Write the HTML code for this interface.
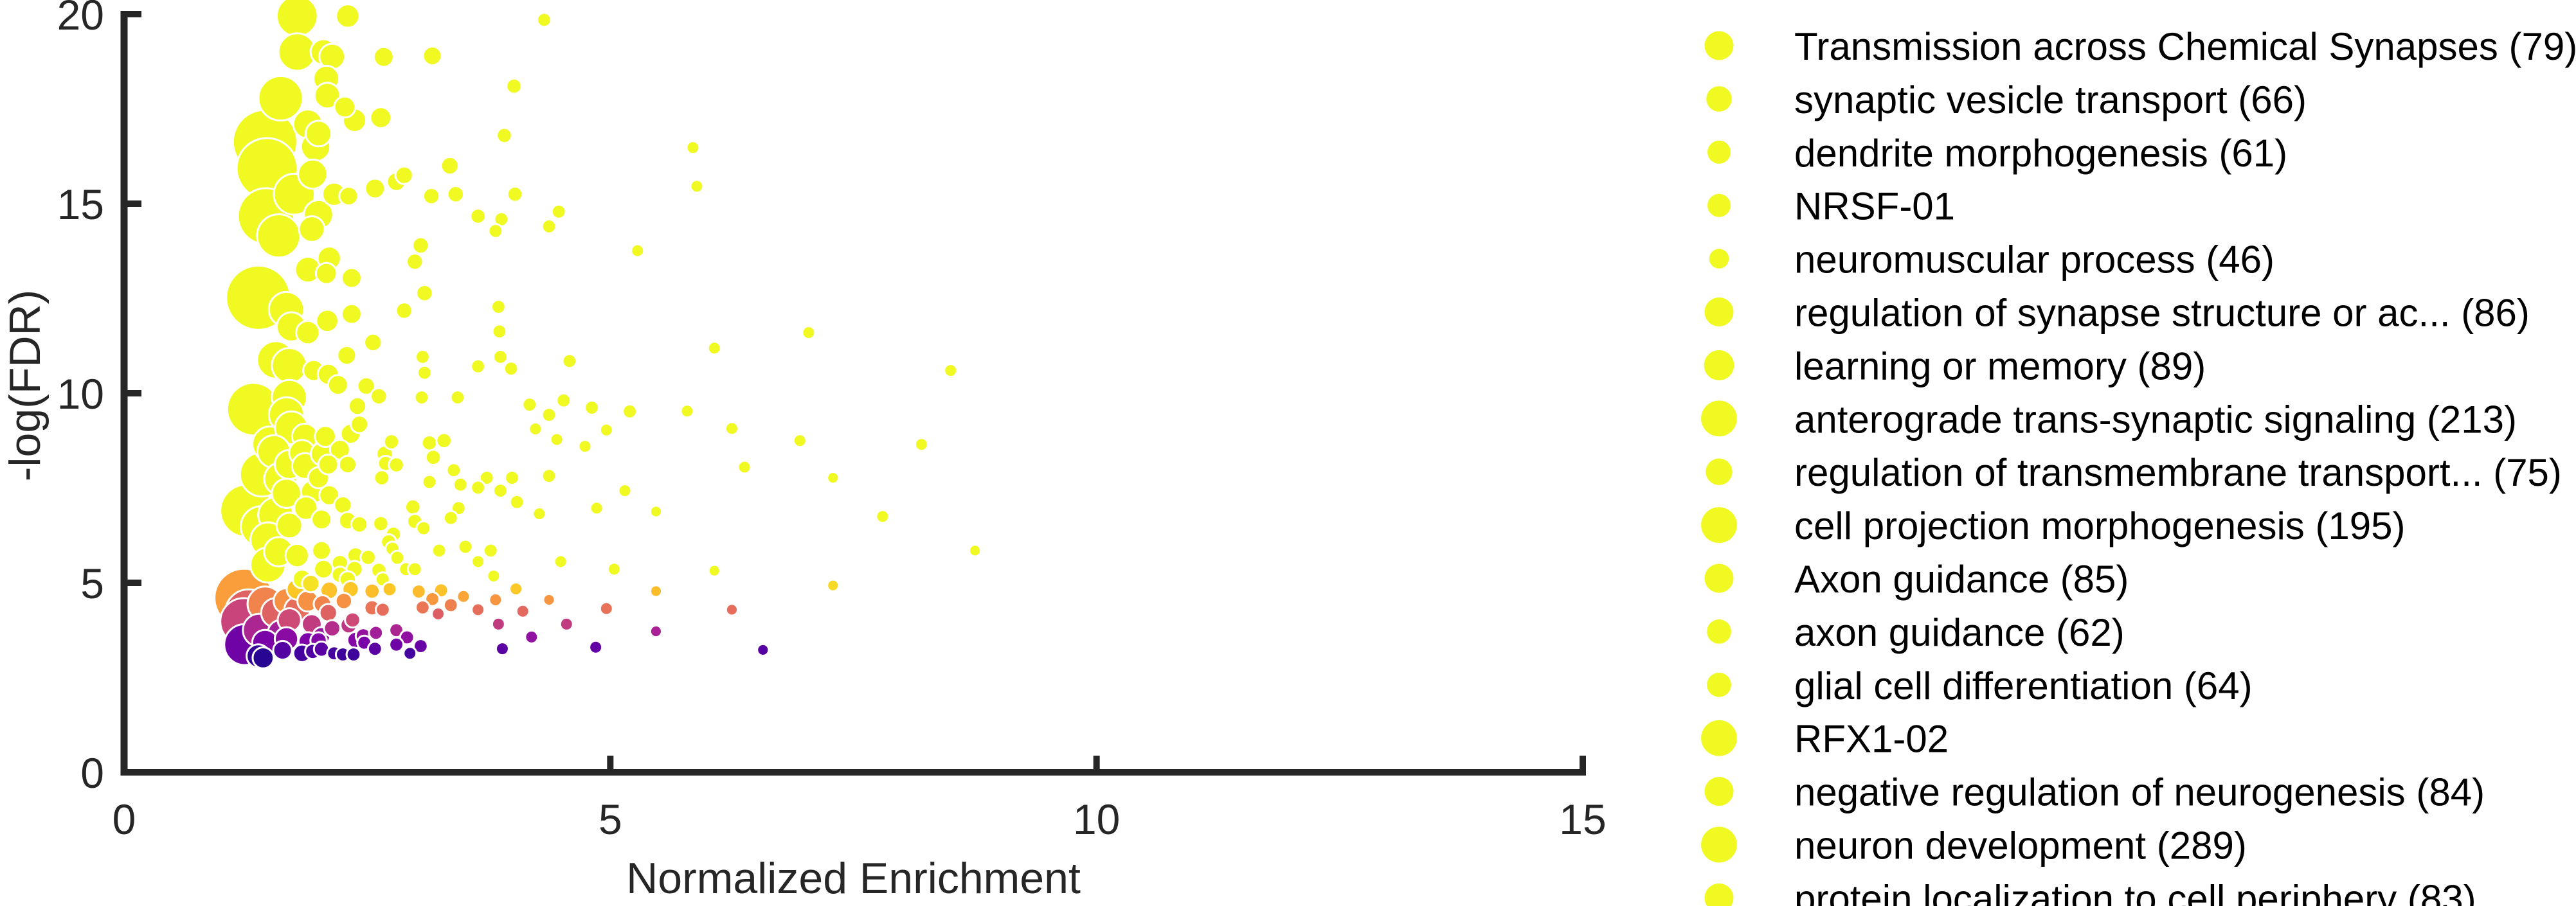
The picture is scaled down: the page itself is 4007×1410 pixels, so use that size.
<!DOCTYPE html>
<html><head><meta charset="utf-8"><style>
html,body{margin:0;padding:0;background:#fff;}
svg{display:block;}
text{font-family:"Liberation Sans",Arial,sans-serif;}
</style></head><body>
<svg id="chart" width="4007" height="1410" viewBox="0 0 4007 1410" xmlns="http://www.w3.org/2000/svg">
<g id="marks"></g>
<g id="axes"></g>
<g id="legend"></g>
</svg>
<script>
const xs=[1.78,2.30,4.32,1.78,2.05,2.14,2.67,3.17,4.01,1.61,2.08,2.09,2.27,2.37,2.64,1.89,2.0,3.91,1.97,5.85,1.45,1.47,1.94,2.88,3.35,5.89,1.75,2.16,2.31,2.58,2.80,3.16,3.41,4.02,2.0,1.46,3.64,3.88,4.47,3.82,4.37,1.59,1.93,5.28,3.05,2.99,2.11,1.89,2.08,2.34,3.09,1.38,1.67,3.85,2.88,2.34,2.09,1.72,1.89,3.86,7.04,6.07,2.56,2.29,1.56,1.70,3.07,3.87,4.58,1.95,2.1,3.09,3.64,3.98,2.2,2.49,2.62,3.06,3.43,1.70,1.33,1.67,2.40,4.17,4.52,4.81,5.20,5.79,4.37,1.72,1.86,2.07,2.33,2.42,4.23,4.96,6.25,1.50,1.54,2.75,3.14,3.29,4.45,4.74,6.95,1.83,2.04,2.22,2.68,3.18,1.70,1.86,2.10,2.30,2.69,2.80,6.38,1.42,1.61,2.0,2.65,3.14,3.39,3.46,3.73,3.99,4.37,7.29,1.67,1.94,2.11,3.64,3.87,5.15,2.25,1.87,2.97,3.44,4.04,4.86,1.26,1.56,2.03,1.70,2.30,2.42,2.64,2.99,3.08,3.36,4.27,5.47,1.41,1.48,2.77,2.72,2.03,1.59,1.78,2.76,2.81,3.24,3.51,3.77,2.38,2.51,1.48,2.22,3.64,4.49,2.05,2.37,2.62,2.90,2.99,5.04,6.07,7.29,1.83,2.22,2.30,1.92,2.66,3.80,1.23,1.78,2.11,2.33,2.55,2.73,3.03,3.26,4.03,5.47,1.45,1.67,1.89,2.04,2.26,3.49,3.82,4.37,3.17,1.28,1.56,1.78,2.10,2.55,2.66,3.07,3.36,3.64,3.23,4.10,4.96,6.25,1.23,1.70,1.93,2.31,2.35,2.14,3.85,4.55,1.39,1.61,2.80,5.47,2.03,2.46,2.59,2.91,4.19,1.24,1.45,1.67,1.89,2.0,2.38,2.47,2.80,3.05,1.63,1.83,1.94,2.03,2.16,2.25,2.36,2.58,2.94,3.89,4.85,6.57,1.38,1.43,8.5,8.2,7.8,8.75];
const ys=[19.95,19.95,19.85,19.0,19.0,18.88,18.87,18.9,18.1,17.78,18.3,17.85,17.55,17.2,17.27,17.1,16.85,16.8,16.5,16.48,16.63,15.93,15.78,15.75,16.0,15.46,15.25,15.25,15.2,15.4,15.58,15.2,15.25,15.25,14.71,14.67,14.67,14.59,14.79,14.28,14.4,14.15,14.33,13.76,13.9,13.47,13.56,13.26,13.16,13.04,12.64,12.52,12.21,12.28,12.18,12.09,11.91,11.75,11.6,11.63,11.6,11.19,11.34,11.0,10.88,10.73,10.96,10.96,10.85,10.6,10.5,10.54,10.71,10.65,10.22,10.19,9.92,9.89,9.89,9.89,9.58,9.43,9.66,9.7,9.81,9.62,9.52,9.53,9.43,9.09,8.86,8.86,8.93,9.18,9.06,9.03,9.07,8.66,8.46,8.72,8.69,8.75,8.78,8.6,8.75,8.43,8.4,8.51,8.4,8.31,8.12,8.08,8.12,8.12,8.15,8.11,8.05,7.86,7.74,7.77,7.77,7.66,7.97,7.59,7.77,7.77,7.82,7.77,7.36,7.40,7.31,7.51,7.43,7.43,7.05,6.97,7.0,6.97,7.13,6.97,6.9,6.79,6.67,6.51,6.64,6.54,6.56,6.62,6.44,6.71,6.82,6.88,6.48,6.13,6.28,6.08,5.85,5.82,5.72,5.90,5.66,5.85,5.95,5.85,5.72,5.67,5.47,5.52,5.56,5.56,5.36,5.36,5.33,5.36,5.36,5.36,5.32,4.93,5.10,5.21,5.09,4.98,5.09,5.18,4.6,4.83,4.80,4.83,4.78,4.83,4.77,4.80,4.84,4.78,4.44,4.52,4.52,4.44,4.52,4.64,4.55,4.55,4.57,4.21,4.21,4.29,4.21,4.34,4.29,4.35,4.41,4.29,4.18,4.25,4.32,4.29,3.98,4.02,3.91,3.88,4.02,3.80,3.91,3.91,3.75,3.68,3.75,3.72,3.60,3.60,3.68,3.56,3.57,3.37,3.42,3.52,3.45,3.48,3.49,3.42,3.37,3.33,3.22,3.14,3.19,3.25,3.14,3.11,3.11,3.26,3.14,3.26,3.30,3.23,3.07,3.02,10.6,8.65,6.75,5.85];
const markerSizes=[35,20,12,32,22,22,17,16,13,38,22,22,18,20,18,25,22,13,25,11,55,52,25,15,15,11,35,20,16,17,16,14,14,13,25,48,13,12,12,12,12,37,22,11,14,14,20,22,18,17,14,55,30,12,14,17,19,25,20,12,11,11,15,16,32,30,12,12,12,18,18,12,12,12,17,15,14,12,12,30,45,30,15,12,12,12,12,11,12,28,22,18,17,15,11,11,11,30,28,13,13,13,11,11,11,22,20,17,14,13,25,22,17,15,13,13,11,38,28,18,13,12,12,12,12,12,12,10,25,20,17,12,12,11,15,20,13,12,12,11,45,30,17,22,15,14,13,13,12,12,11,10,35,30,13,13,16,25,20,12,12,12,12,12,14,13,30,14,11,11,16,14,13,12,12,11,10,10,16,14,14,15,12,11,50,18,15,14,13,12,12,12,11,10,30,22,18,15,14,11,11,10,12,40,25,22,15,13,12,12,12,11,11,11,11,10,40,20,17,14,13,14,11,11,28,22,12,10,15,13,12,12,11,35,22,20,16,14,14,12,12,12,16,15,13,13,12,12,12,12,11,11,11,10,20,18,11,11,11,10];
const xTicks=[0,5,10,15];
const yTicks=[0,5,10,15,20];
const legendLabels=["Transmission across Chemical Synapses (79)","synaptic vesicle transport (66)","dendrite morphogenesis (61)","NRSF-01","neuromuscular process (46)","regulation of synapse structure or ac... (86)","learning or memory (89)","anterograde trans-synaptic signaling (213)","regulation of transmembrane transport... (75)","cell projection morphogenesis (195)","Axon guidance (85)","axon guidance (62)","glial cell differentiation (64)","RFX1-02","negative regulation of neurogenesis (84)","neuron development (289)","protein localization to cell periphery (83)"];
const legendSizes=[25,22,20,20,17,25,26,31,23,31,25,21,21,31,25,31,25];

const NS="http://www.w3.org/2000/svg";
const X0=193,X1=2462,Y0=1202,Y1=22;
const sx=v=>X0+(v-0)/(15-0)*(X1-X0);
const sy=v=>Y0-(v-0)/(20-0)*(Y0-Y1);
const stops=["#0d0887","#4c02a1","#7e03a8","#a92395","#cc4778","#e56b5d","#f89540","#fdc527","#f0f921"];
function hex(h){return [1,3,5].map(i=>parseInt(h.substr(i,2),16));}
function plasma(t){t=Math.max(0,Math.min(1,t));const p=t*(stops.length-1);const i=Math.min(stops.length-2,Math.floor(p));const f=p-i;const a=hex(stops[i]),b=hex(stops[i+1]);return "rgb("+a.map((v,k)=>Math.round(v+(b[k]-v)*f)).join(",")+")";}
function colorFor(y){return plasma((y-2.9)/2.2);}
function el(tag,attrs,parent){const e=document.createElementNS(NS,tag);for(const k in attrs)e.setAttribute(k,attrs[k]);parent.appendChild(e);return e;}

const marks=document.getElementById("marks");
const idx=xs.map((_,i)=>i).sort((a,b)=>markerSizes[b]-markerSizes[a]);
idx.forEach(i=>{
  const c=el("circle",{cx:sx(xs[i]),cy:sy(ys[i]),r:markerSizes[i]/1.1,fill:colorFor(ys[i]),stroke:"#fff","stroke-width":3},marks);
  
  
});

const axes=document.getElementById("axes");
const yAxis=el("line",{x1:X0,y1:Y1-5,x2:X0,y2:Y0+5,stroke:"#262626","stroke-width":11},axes);


const xAxis=el("line",{x1:X0-5,y1:Y0,x2:X1+5,y2:Y0,stroke:"#262626","stroke-width":10},axes);


xTicks.forEach(v=>{
  const t=el("line",{x1:sx(v),y1:Y0,x2:sx(v),y2:Y0-26,stroke:"#262626","stroke-width":10},axes);
  
  
  const l=el("text",{x:sx(v),y:Y0+96,"text-anchor":"middle","font-size":66,fill:"#262626"},axes);
  l.textContent=v;
  
  
});
yTicks.forEach(v=>{
  const t=el("line",{x1:X0,y1:sy(v),x2:X0+27,y2:sy(v),stroke:"#262626","stroke-width":10},axes);
  
  
  const l=el("text",{x:X0-31,y:sy(v)+24,"text-anchor":"end","font-size":66,fill:"#262626"},axes);
  l.textContent=v;
  
  
});
const xl=el("text",{x:(X0+X1)/2,y:1390,"text-anchor":"middle","font-size":68,fill:"#262626"},axes);
xl.textContent="Normalized Enrichment";


const yl=el("text",{x:0,y:0,"text-anchor":"middle","font-size":68,fill:"#262626",transform:"translate(62,600) rotate(-90)"},axes);
yl.textContent="-log(FDR)";



const legend=document.getElementById("legend");
legendLabels.forEach((lab,i)=>{
  const cy=71+i*82.9;
  const g=el("g",{},legend);
  
  
  const m=el("circle",{cx:2674,cy:cy,r:legendSizes[i]*0.9,fill:"#f0f921"},g);
  
  
  const t=el("text",{x:2791,y:cy+22,"font-size":60,fill:"#000"},g);
  t.textContent=lab;
  
  
});
</script>
</body></html>
